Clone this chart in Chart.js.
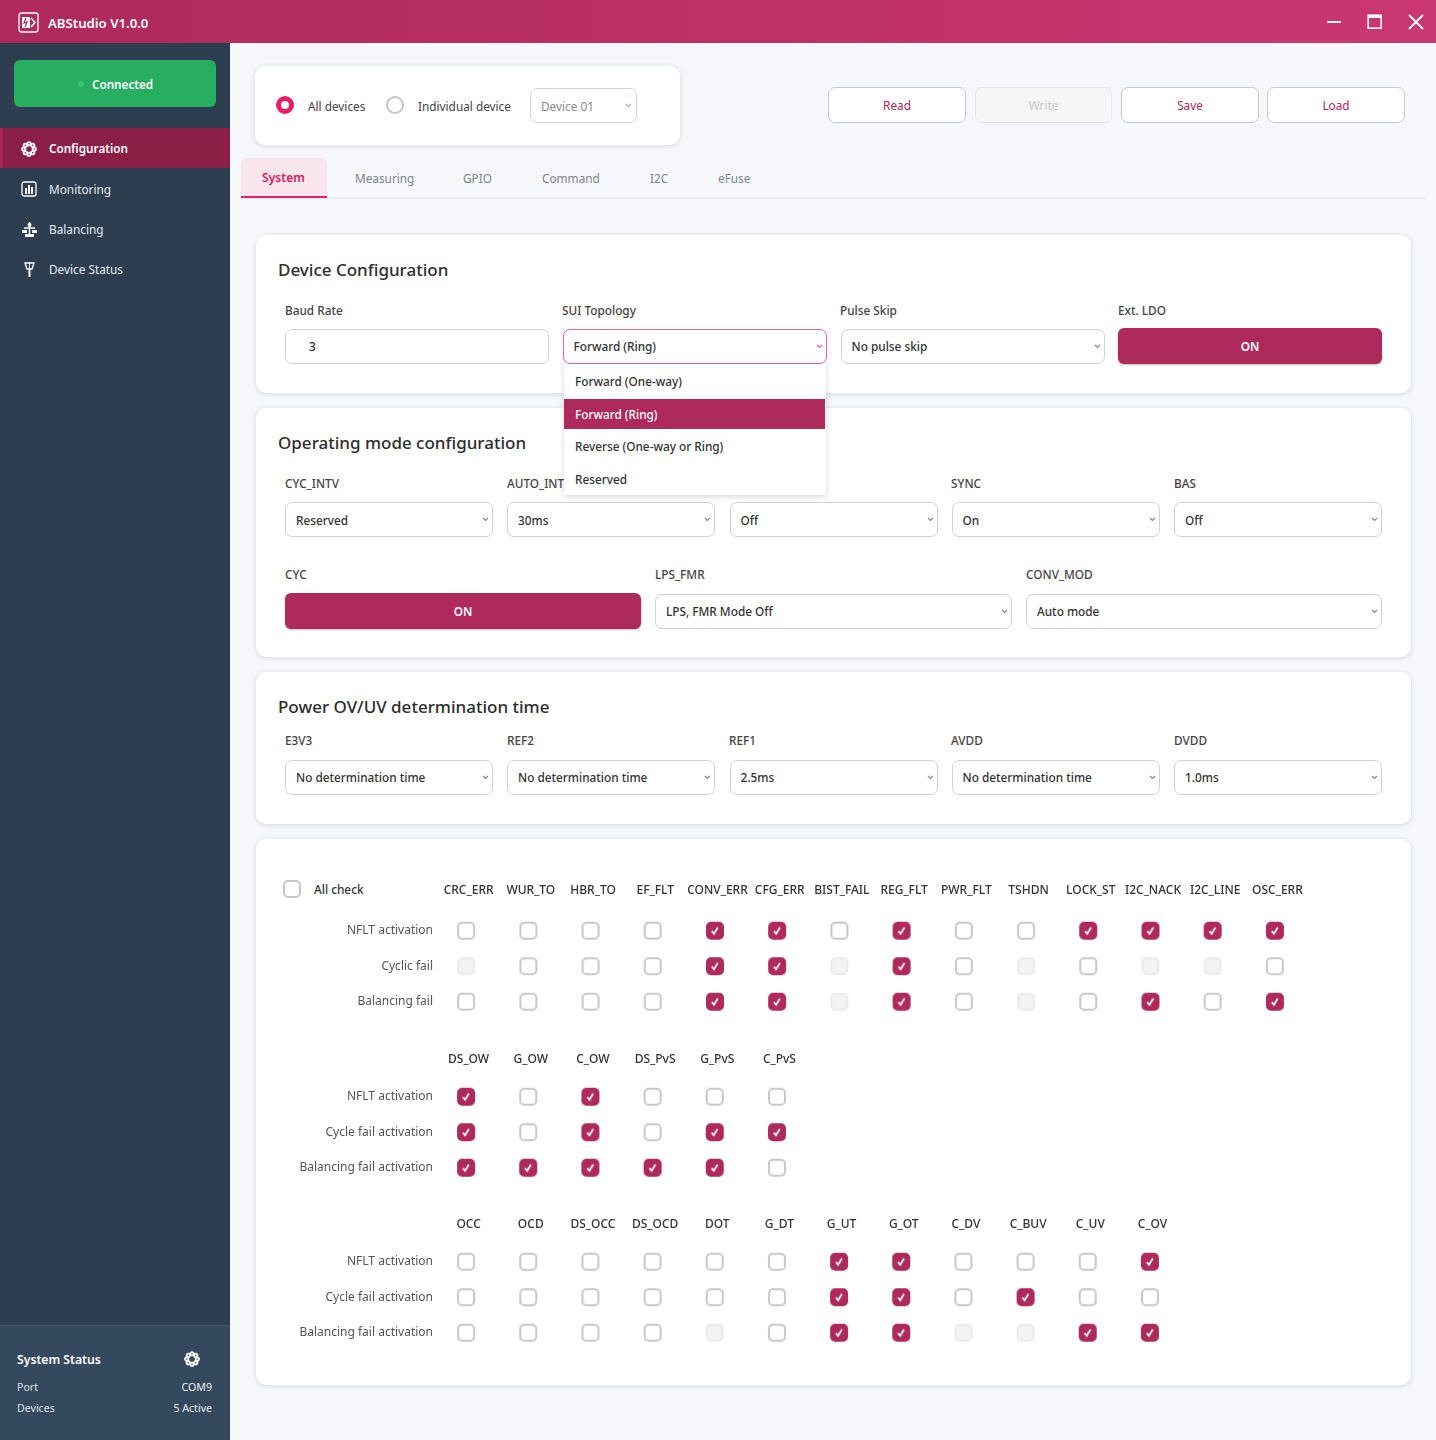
<!DOCTYPE html>
<html>
<head>
<meta charset="utf-8">
<title>ABStudio V1.0.0</title>
<script src="https://cdn.jsdelivr.net/npm/chart.js@4"></script>
<style>
  * { box-sizing: border-box; }
  html, body { margin: 0; padding: 0; }
  body { width: 1436px; height: 1440px; position: relative; overflow: hidden; background: #f5f7fa;
         font-family: "Noto Sans", sans-serif; font-size: 11.8px; color: #333; }
  .abs { position: absolute; white-space: nowrap; }
  .txt { line-height: 16px; margin-top: -9px; }
  #titlebar { left: 0; top: 0; width: 1436px; height: 43px; background: linear-gradient(90deg, #ad2a5a, #cb3771); }
  #sidebar { left: 0; top: 43px; width: 230px; height: 1397px; background: #2c3e50; }
  #status { left: 0; top: 1325px; width: 230px; height: 115px; background: #34495e; border-top: 1px solid #44586c; }
  .card { background: #fff; border-radius: 10px; box-shadow: 0 1px 5px rgba(40, 50, 70, .16); }
  .field { background: #fff; border: 1px solid #d2d2d2; border-radius: 7px; height: 35px; }
  .on { background: #ad2a5a; border-radius: 6px; height: 35px; color: #fff; font-weight: 600; text-align: center; line-height: 37px; box-shadow: 0 1px 2px rgba(0,0,0,.25); }
  .btn { background: #fff; border: 1px solid #c6c8cc; border-radius: 7px; height: 35px; color: #ad2a5a; text-align: center; line-height: 35px; }
  canvas, svg { display: block; }
</style>
</head>
<body>
<script>
// check matrix data: 0 = empty, 1 = checked, 2 = disabled
const faultCols = ["CRC_ERR", "WUR_TO", "HBR_TO", "EF_FLT", "CONV_ERR", "CFG_ERR", "BIST_FAIL", "REG_FLT", "PWR_FLT", "TSHDN", "LOCK_ST", "I2C_NACK", "I2C_LINE", "OSC_ERR"];
const faultRows = ["NFLT activation", "Cyclic fail", "Balancing fail"];
const faultStates = [
  [0, 0, 0, 0, 1, 1, 0, 1, 0, 0, 1, 1, 1, 1],
  [2, 0, 0, 0, 1, 1, 2, 1, 0, 2, 0, 2, 2, 0],
  [0, 0, 0, 0, 1, 1, 2, 1, 0, 2, 0, 1, 0, 1],
];

const wireCols = ["DS_OW", "G_OW", "C_OW", "DS_PvS", "G_PvS", "C_PvS"];
const wireRows = ["NFLT activation", "Cycle fail activation", "Balancing fail activation"];
const wireStates = [
  [1, 0, 1, 0, 0, 0],
  [1, 0, 1, 0, 1, 1],
  [1, 1, 1, 1, 1, 0],
];

const protectCols = ["OCC", "OCD", "DS_OCC", "DS_OCD", "DOT", "G_DT", "G_UT", "G_OT", "C_DV", "C_BUV", "C_UV", "C_OV"];
const protectRows = ["NFLT activation", "Cycle fail activation", "Balancing fail activation"];
const protectStates = [
  [0, 0, 0, 0, 0, 0, 1, 1, 0, 0, 0, 1],
  [0, 0, 0, 0, 0, 0, 1, 1, 0, 1, 0, 0],
  [0, 0, 0, 0, 2, 0, 1, 1, 2, 2, 1, 1],
];

const BRAND = "#ad2a5a";

function add(cls, x, y, w, h, text, extra) {
  const el = document.createElement("div");
  el.className = "abs " + cls;
  el.style.left = x + "px";
  el.style.top = y + "px";
  if (w != null) el.style.width = w + "px";
  if (h != null) el.style.height = h + "px";
  if (text != null) el.textContent = text;
  if (extra) el.style.cssText += extra;
  document.body.appendChild(el);
  return el;
}

function label(x, y, text, extra) {
  return add("txt", x, y, null, null, text, extra);
}

function icon(x, y, w, h, inner, extra) {
  const el = add("", x, y, w, h, null, extra);
  el.innerHTML = `<svg width="${w}" height="${h}" viewBox="0 0 ${w} ${h}" fill="none">${inner}</svg>`;
  return el;
}

// select box with small chevron
function select(x, y, w, text, color) {
  add("field", x, y, w, 35, null, color ? "border-color:" + color : "");
  label(x + 11, y + 18.5, text, "font-weight:500");
  icon(x + w - 11, y + 15, 7, 5, `<polyline points="1,1 3.5,3.5 6,1" stroke="${color || "#888"}" stroke-width="1.2"/>`);
}

function card(y, h) {
  add("card", 256, y, 1155, h);
}

function flower(x, y, r, color, hole) {
  let s = "";
  for (let i = 0; i < 8; i++) {
    const a = (i * Math.PI) / 4;
    s += `<circle cx="${r + r * 0.66 * Math.cos(a)}" cy="${r + r * 0.66 * Math.sin(a)}" r="${r * 0.32}" fill="${color}"/>`;
  }
  for (let i = 0; i < 8; i++) {
    const a = (i * Math.PI) / 4;
    s += `<circle cx="${r + r * 0.66 * Math.cos(a)}" cy="${r + r * 0.66 * Math.sin(a)}" r="${r * 0.1}" fill="${hole}"/>`;
  }
  s += `<circle cx="${r}" cy="${r}" r="${r * 0.22}" fill="${hole}"/>`;
  icon(x - r, y - r, r * 2, r * 2, s);
}

/* ---------- window chrome ---------- */
add("", 0, 0, 1436, 43).id = "titlebar";
icon(18, 12, 21, 21, `<rect x="1" y="1" width="19" height="19" rx="2.5" stroke="#fff" stroke-width="1.3"/>
  <rect x="4" y="5" width="8" height="11" fill="#fff"/><path d="M8 6 L6 11 L9 10 L7 15" stroke="#ad2a5a" stroke-width="1.2"/>
  <polyline points="13,6 17,10.5 13,15" stroke="#fff" stroke-width="1.6"/>`);
label(48, 23.5, "ABStudio V1.0.0", "color:#fff;font-size:13.2px;font-weight:600");
icon(1326, 16, 16, 12, `<rect x="1" y="5" width="14" height="2" fill="#fff"/>`);
icon(1367, 14, 16, 16, `<rect x="1.2" y="1.2" width="13" height="13" stroke="#fff" stroke-width="1.6"/><rect x="1" y="1" width="13.4" height="3" fill="#fff"/>`);
icon(1408, 14, 16, 16, `<path d="M1 1 L15 15 M15 1 L1 15" stroke="#fff" stroke-width="1.8"/>`);

/* ---------- sidebar ---------- */
add("", 0, 43, 230, 1397).id = "sidebar";
add("", 14, 60, 202, 47, null, "background:#27ae60;border-radius:6px");
add("", 78, 81, 6, 6, null, "background:#2ecc71;border-radius:50%");
label(92, 85, "Connected", "color:#fff;font-weight:600;font-size:11.7px");
add("", 0, 128, 230, 40, null, "background:#8b1e45;border-left:3px solid #a3285a");
flower(29, 149, 8, "#fff", "#8b1e45");
icon(21, 181, 16, 16, `<rect x="1" y="1" width="14" height="14" rx="2" stroke="#fff" stroke-width="1.3"/><rect x="4" y="7" width="2" height="6" fill="#fff"/><rect x="7" y="4" width="2" height="9" fill="#fff"/><rect x="10" y="6" width="2" height="7" fill="#fff"/>`);
icon(21, 221, 17, 17, `<path d="M8.5 1 V13 M3 7 H14" stroke="#fff" stroke-width="1.5"/><rect x="1" y="9" width="5" height="3" fill="#fff"/><rect x="11" y="9" width="5" height="3" fill="#fff"/><rect x="4" y="13" width="9" height="3" fill="#fff"/><circle cx="8.5" cy="4" r="2" fill="#fff"/>`);
icon(23, 261, 13, 17, `<path d="M2 2 H11 L9 8 H4 Z" stroke="#fff" stroke-width="1.3"/><path d="M6.5 8 V16" stroke="#fff" stroke-width="2"/><path d="M6.5 1 V8" stroke="#fff"/>`);
label(49, 149, "Configuration", "color:#fff;font-weight:600;font-size:11.7px");
label(49, 190, "Monitoring", "color:#e8edf2");
label(49, 230, "Balancing", "color:#e8edf2");
label(49, 270, "Device Status", "color:#e8edf2");
add("", 0, 1325, 230, 115).id = "status";
label(17, 1361, "System Status", "color:#fff;font-weight:600;font-size:12.2px");
flower(192, 1359, 8, "#fff", "#34495e");
label(17, 1388, "Port", "color:#dfe5eb;font-size:10.6px");
label(17, 1409, "Devices", "color:#dfe5eb;font-size:10.6px");
add("txt", 112, 1388, 100, null, "COM9", "color:#eef1f4;font-size:10.6px;text-align:right");
add("txt", 112, 1409, 100, null, "5 Active", "color:#eef1f4;font-size:10.6px;text-align:right");

/* ---------- top controls ---------- */
add("card", 255, 66, 425, 79);
add("", 276, 96, 18, 18, null, "border:5px solid #e91e63;border-radius:50%;background:#fff");
add("", 386, 96, 18, 18, null, "border:2px solid #c4c4c4;border-radius:50%;background:#fff");
label(308, 106.5, "All devices", "color:#444");
label(418, 106.5, "Individual device", "color:#444");
add("field", 530, 88, 107, 35, null, "border-color:#d6d6d6");
label(541, 106.5, "Device 01", "color:#888");
icon(625, 103, 7, 5, `<polyline points="1,1 3.5,3.5 6,1" stroke="#aaa" stroke-width="1.1"/>`);
add("btn", 828, 87, 138, 36, "Read");
add("btn", 975, 87, 137, 36, "Write", "background:#f5f6f7;border-color:#e6e7e9;color:#c8c8c8");
add("btn", 1121, 87, 138, 36, "Save");
add("btn", 1267, 87, 138, 36, "Load");

/* ---------- tabs ---------- */
add("", 241, 197, 1184, 2, null, "background:#e9ebef");
add("", 241, 158, 86, 40, null, "background:#f9e6ec;border-radius:6px 6px 0 0;border-bottom:2px solid #e91e63");
label(262, 178.5, "System", "color:#d81b60;font-weight:600;font-size:12.1px");
label(355, 178.5, "Measuring", "color:#7f8489");
label(463, 178.5, "GPIO", "color:#7f8489");
label(542, 178.5, "Command", "color:#7f8489");
label(650, 178.5, "I2C", "color:#7f8489");
label(718, 178.5, "eFuse", "color:#7f8489");

/* ---------- device configuration ---------- */
const titleCss = "font-size:17px;font-weight:500;color:#2d2d2d";
const labelCss = "font-weight:500;color:#444";
card(235, 158);
label(278, 270.5, "Device Configuration", titleCss);
label(285, 311, "Baud Rate", labelCss);
label(562, 311, "SUI Topology", labelCss);
label(840, 311, "Pulse Skip", labelCss);
label(1118, 311, "Ext. LDO", labelCss);
add("field", 285, 328.5, 264, 35.5);
label(309, 347, "3", "font-weight:500");
select(562.5, 328.5, 264, "Forward (Ring)", "#e8648f");
select(840.5, 328.5, 264, "No pulse skip");
add("on", 1118, 328, 264, 36, "ON");

/* ---------- operating mode ---------- */
card(408, 249);
label(278, 443.5, "Operating mode configuration", titleCss);
label(285, 484, "CYC_INTV", labelCss);
label(507, 484, "AUTO_INTV", labelCss);
label(951, 484, "SYNC", labelCss);
label(1174, 484, "BAS", labelCss);
select(285, 502, 208, "Reserved");
select(507, 502, 208, "30ms");
select(729.5, 502, 208, "Off");
select(951.5, 502, 208, "On");
select(1174, 502, 208, "Off");
label(285, 575, "CYC", labelCss);
label(655, 575, "LPS_FMR", labelCss);
label(1026, 575, "CONV_MOD", labelCss);
add("on", 285, 593, 356, 36, "ON");
select(655, 593.5, 357, "LPS, FMR Mode Off");
select(1026, 593.5, 356, "Auto mode");

/* dropdown opened over the next card */
add("", 564, 364, 262, 131, null, "background:#fff;box-shadow:0 2px 6px rgba(40,50,70,.18)");
add("", 564, 399, 261, 30, null, "background:" + BRAND);
label(575, 382, "Forward (One-way)", "font-weight:500");
label(575, 415, "Forward (Ring)", "font-weight:500;color:#fff");
label(575, 447, "Reverse (One-way or Ring)", "font-weight:500");
label(575, 480, "Reserved", "font-weight:500");

/* ---------- power ov/uv ---------- */
card(672, 152);
label(278, 708, "Power OV/UV determination time", titleCss);
label(285, 741, "E3V3", labelCss);
label(507, 741, "REF2", labelCss);
label(729, 741, "REF1", labelCss);
label(951, 741, "AVDD", labelCss);
label(1174, 741, "DVDD", labelCss);
select(285, 759.5, 208, "No determination time");
select(507, 759.5, 208, "No determination time");
select(729.5, 759.5, 208, "2.5ms");
select(951.5, 759.5, 208, "No determination time");
select(1174, 759.5, 208, "1.0ms");

/* ---------- check matrices ---------- */
card(839, 546);
add("", 283, 880, 18, 18, null, "border:2px solid #c8c8c8;border-radius:5px;background:#fff");
label(314, 889.5, "All check", "font-weight:500");

function sprite(state) {
  const c = document.createElement("canvas");
  c.width = 20;
  c.height = 20;
  const g = c.getContext("2d");
  g.beginPath();
  g.roundRect(2, 2, 16, 16, 4);
  if (state === 1) {
    g.fillStyle = BRAND;
    g.fill();
    g.strokeStyle = BRAND;
    g.lineWidth = 2;
    g.stroke();
    g.beginPath();
    g.moveTo(6.8, 10.4);
    g.lineTo(9, 13);
    g.lineTo(12.8, 6.8);
    g.strokeStyle = "#fff";
    g.lineWidth = 1.7;
    g.stroke();
  } else if (state === 2) {
    g.fillStyle = "#f3f3f3";
    g.fill();
    g.strokeStyle = "#e6e6e6";
    g.lineWidth = 1.5;
    g.stroke();
  } else {
    g.fillStyle = "#fff";
    g.fill();
    g.strokeStyle = "#c8c8c8";
    g.lineWidth = 2;
    g.stroke();
  }
  return c;
}

const sprites = [sprite(0), sprite(1), sprite(2)];

function points(cols, rows, states, state) {
  const out = [];
  states.forEach((row, r) => {
    row.forEach((v, c) => {
      if (v === state) out.push({ x: cols[c], y: rows[r] });
    });
  });
  return out;
}

// fixed axis sizes, and no label overhang so the cells keep their pitch
function fixAxis(s, size) {
  if (s.isHorizontal()) s.height = size;
  else s.width = size;
  s.paddingLeft = s.paddingRight = s.paddingTop = s.paddingBottom = 0;
}

function matrix(top, headH, headPad, cols, rows, states) {
  const w = 175 + Math.round(cols.length * 62.2);
  const h = headH + 107;
  const wrap = add("", 260, top, w, h);
  const cv = document.createElement("canvas");
  cv.width = w;
  cv.height = h;
  wrap.appendChild(cv);
  const family = '"Noto Sans", sans-serif';
  new Chart(cv, {
    type: "scatter",
    data: {
      datasets: [0, 1, 2].map((s) => ({
        data: points(cols, rows, states, s),
        pointStyle: sprites[s],
        pointRadius: 10,
        pointHoverRadius: 10,
      })),
    },
    options: {
      responsive: false,
      animation: false,
      events: [],
      layout: { autoPadding: false, padding: { bottom: 0.5 } },
      plugins: { legend: { display: false }, tooltip: { enabled: false } },
      scales: {
        x: {
          type: "category",
          labels: cols,
          position: "top",
          offset: true,
          grid: { display: false, drawTicks: false },
          border: { display: false },
          afterFit: (s) => fixAxis(s, headH),
          ticks: { color: "#333", font: { family, size: 12, weight: "500" }, padding: headPad, labelOffset: 2.5, maxRotation: 0, autoSkip: false },
        },
        y: {
          type: "category",
          labels: rows,
          position: "left",
          offset: true,
          grid: { display: false, drawTicks: false },
          border: { display: false },
          afterFit: (s) => fixAxis(s, 175),
          ticks: { color: "#555", font: { family, size: 12 }, padding: 2, autoSkip: false },
        },
      },
    },
  });
}

matrix(880, 33, 15.5, faultCols, faultRows, faultStates);
matrix(1046, 33, 12, wireCols, wireRows, wireStates);
matrix(1211, 33, 12.5, protectCols, protectRows, protectStates);
</script>
</body>
</html>
